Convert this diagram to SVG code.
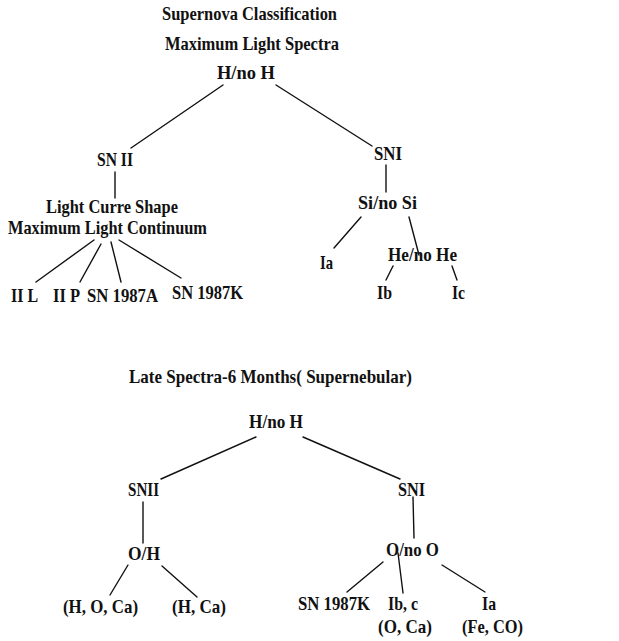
<svg xmlns="http://www.w3.org/2000/svg" width="619" height="641" viewBox="0 0 619 641">
<style>
text{font-family:"Liberation Serif","DejaVu Serif",serif;font-weight:bold;font-size:19.5px;fill:#111}
.c line{stroke:#111;stroke-width:1.4;stroke-linecap:round}
</style>
<rect width="619" height="641" fill="#fff"/>
<g id="titles">
<text x="162" y="20" textLength="175" lengthAdjust="spacingAndGlyphs">Supernova Classification</text>
<text x="165" y="50" textLength="174" lengthAdjust="spacingAndGlyphs">Maximum Light Spectra</text>
<text x="129" y="383" textLength="283" lengthAdjust="spacingAndGlyphs">Late Spectra-6 Months( Supernebular)</text>
</g>
<g id="n-top-h"><text x="217" y="79" textLength="58" lengthAdjust="spacingAndGlyphs">H/no H</text></g>
<g id="n-snii"><text x="97" y="166" textLength="36" lengthAdjust="spacingAndGlyphs">SN II</text></g>
<g id="n-sni"><text x="374" y="160" textLength="28" lengthAdjust="spacingAndGlyphs">SNI</text></g>
<g id="n-lightcurve">
<text x="46" y="213" textLength="132" lengthAdjust="spacingAndGlyphs">Light Curre Shape</text>
<text x="8" y="234" textLength="199" lengthAdjust="spacingAndGlyphs">Maximum Light Continuum</text>
</g>
<g id="n-iil"><text x="11" y="302" textLength="27" lengthAdjust="spacingAndGlyphs">II L</text></g>
<g id="n-iip"><text x="53" y="302" textLength="27" lengthAdjust="spacingAndGlyphs">II P</text></g>
<g id="n-1987a"><text x="87" y="302" textLength="71" lengthAdjust="spacingAndGlyphs">SN 1987A</text></g>
<g id="n-1987k-top"><text x="172" y="299" textLength="71" lengthAdjust="spacingAndGlyphs">SN 1987K</text></g>
<g id="n-si"><text x="358" y="209" textLength="59" lengthAdjust="spacingAndGlyphs">Si/no Si</text></g>
<g id="n-ia-top"><text x="320" y="269" textLength="13" lengthAdjust="spacingAndGlyphs">Ia</text></g>
<g id="n-he"><text x="388" y="261" textLength="69" lengthAdjust="spacingAndGlyphs">He/no He</text></g>
<g id="n-ib"><text x="377" y="299" textLength="15" lengthAdjust="spacingAndGlyphs">Ib</text></g>
<g id="n-ic"><text x="452" y="299" textLength="13" lengthAdjust="spacingAndGlyphs">Ic</text></g>
<g id="n-bot-h"><text x="249" y="428" textLength="54" lengthAdjust="spacingAndGlyphs">H/no H</text></g>
<g id="n-snii-b"><text x="128" y="496" textLength="31" lengthAdjust="spacingAndGlyphs">SNII</text></g>
<g id="n-sni-b"><text x="398" y="496" textLength="27" lengthAdjust="spacingAndGlyphs">SNI</text></g>
<g id="n-oh"><text x="128" y="560" textLength="32" lengthAdjust="spacingAndGlyphs">O/H</text></g>
<g id="n-hoca"><text x="63" y="613" textLength="75" lengthAdjust="spacingAndGlyphs">(H, O, Ca)</text></g>
<g id="n-hca"><text x="172" y="613" textLength="54" lengthAdjust="spacingAndGlyphs">(H, Ca)</text></g>
<g id="n-ono"><text x="386" y="556" textLength="53" lengthAdjust="spacingAndGlyphs">O/no O</text></g>
<g id="n-1987k-b"><text x="298" y="610" textLength="72" lengthAdjust="spacingAndGlyphs">SN 1987K</text></g>
<g id="n-ibc">
<text x="388" y="610" textLength="30" lengthAdjust="spacingAndGlyphs">Ib, c</text>
<text x="378" y="633" textLength="54" lengthAdjust="spacingAndGlyphs">(O, Ca)</text>
</g>
<g id="n-ia-b">
<text x="482" y="610" textLength="14" lengthAdjust="spacingAndGlyphs">Ia</text>
<text x="462" y="633" textLength="61" lengthAdjust="spacingAndGlyphs">(Fe, CO)</text>
</g>
<g id="connectors" class="c">
<line x1="223" y1="85" x2="131" y2="148"/>
<line x1="276" y1="85" x2="372" y2="146"/>
<line x1="115" y1="172" x2="115" y2="198"/>
<line x1="94" y1="240" x2="36" y2="282"/>
<line x1="101" y1="244" x2="80" y2="282"/>
<line x1="111" y1="242" x2="121" y2="282"/>
<line x1="119" y1="240" x2="181" y2="278"/>
<line x1="386" y1="165" x2="386" y2="192"/>
<line x1="361" y1="217" x2="334" y2="248"/>
<line x1="409" y1="217" x2="419" y2="255"/>
<line x1="393" y1="266" x2="386" y2="280"/>
<line x1="452" y1="266" x2="457" y2="280"/>
<line x1="256" y1="437" x2="161" y2="479"/>
<line x1="303" y1="437" x2="400" y2="479"/>
<line x1="143" y1="502" x2="143" y2="543"/>
<line x1="128" y1="565" x2="110" y2="595"/>
<line x1="162" y1="566" x2="197" y2="597"/>
<line x1="413" y1="497" x2="414" y2="538"/>
<line x1="383" y1="562" x2="347" y2="592"/>
<line x1="398" y1="553" x2="403" y2="593"/>
<line x1="442" y1="565" x2="485" y2="592"/>
</g>
</svg>
